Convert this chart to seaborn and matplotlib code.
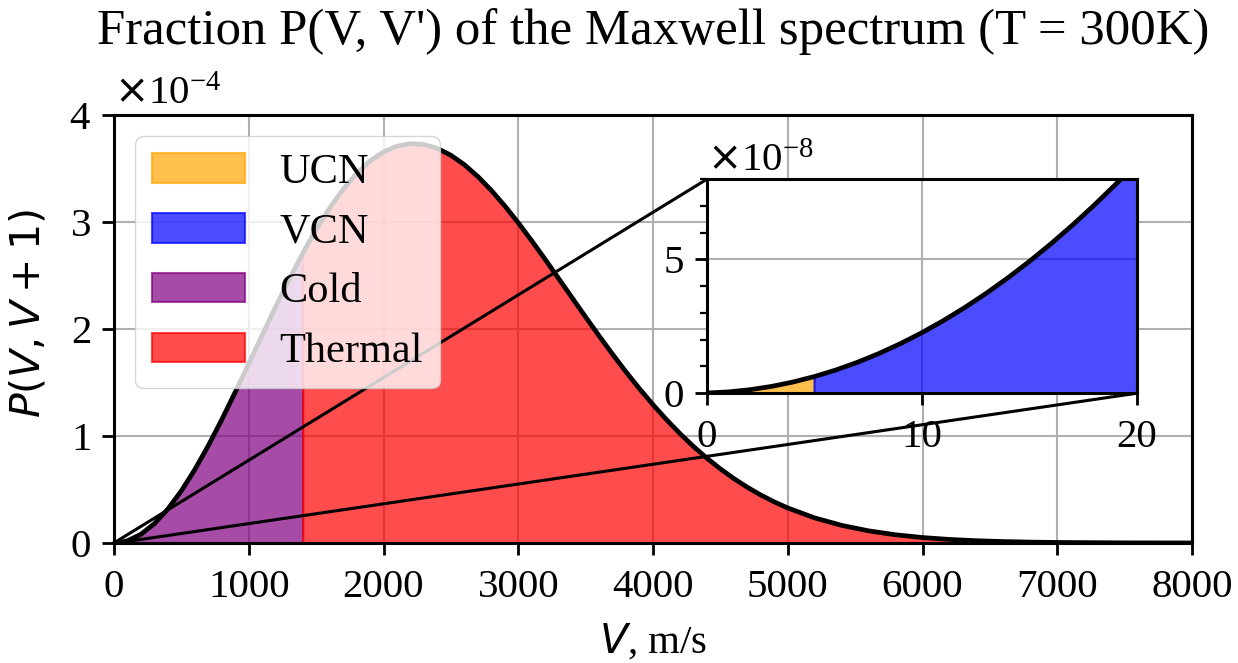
import matplotlib
matplotlib.use("Agg")
import numpy as np
import pandas as pd
import seaborn as sns
import matplotlib.pyplot as plt
from matplotlib.ticker import MultipleLocator

# ---- data ----
# low-velocity part (V in m/s, P in units of 1e-8)
V_low = list(range(0, 21))
P_low_e8 = [0.0068, 0.0479, 0.1299, 0.2530, 0.4172, 0.6224, 0.8686, 1.1558,
            1.4841, 1.8534, 2.2636, 2.7150, 3.2073, 3.7407, 4.3151, 4.9305,
            5.5869, 6.2844, 7.0228, 7.8023, 8.6228]
# full spectrum (V in m/s, P in units of 1e-4)
V_main = [100, 200, 300, 400, 500, 600, 700, 800, 900, 1000,
          1100, 1200, 1300, 1400, 1500, 1600, 1700, 1800, 1900, 2000,
          2100, 2200, 2300, 2400, 2500, 2600, 2700, 2800, 2900, 3000,
          3100, 3200, 3300, 3400, 3500, 3600, 3700, 3800, 3900, 4000,
          4100, 4200, 4300, 4400, 4500, 4600, 4700, 4800, 4900, 5000,
          5200, 5400, 5600, 5800, 6000, 6200, 6400, 6600, 6800, 7000,
          7500, 8000]
P_main_e4 = [0.0205, 0.0814, 0.1813, 0.3178, 0.4876, 0.6867, 0.9105, 1.1537, 1.4108, 1.6761,
             1.9437, 2.2081, 2.4637, 2.7056, 2.9290, 3.1300, 3.3055, 3.4527, 3.5696, 3.6552,
             3.7093, 3.7322, 3.7244, 3.6876, 3.6240, 3.5356, 3.4252, 3.2958, 3.1505, 2.9927,
             2.8245, 2.6500, 2.4713, 2.2911, 2.1118, 1.9355, 1.7638, 1.5987, 1.4414, 1.2926,
             1.1528, 1.0227, 0.9025, 0.7927, 0.6927, 0.6023, 0.5209, 0.4484, 0.3841, 0.3274,
             0.2345, 0.1648, 0.1136, 0.0768, 0.0509, 0.0332, 0.02125, 0.01336, 0.00825, 0.0050,
             0.00133, 0.00031]

region_names = ["UCN", "VCN", "Cold", "Thermal"]
region_lo = [0, 5, 100, 1400]
region_hi = [5, 100, 1400, 8000]
region_colors = ["orange", "blue", "purple", "red"]

title_text = "Fraction P(V, V') of the Maxwell spectrum (T = 300K)"

V_all = np.array(V_low + V_main, dtype=float)
P_all = np.array([p * 1e-8 for p in P_low_e8] + [p * 1e-4 for p in P_main_e4])
df = pd.DataFrame({"V": V_all, "P": P_all})

# ---- style ----
sns.set_theme(style="ticks")
FS = 29.5
plt.rcParams.update({
    "font.family": ["Liberation Serif", "DejaVu Sans"],
    "mathtext.fontset": "dejavusans",
    "font.size": FS,
    "text.color": "black",
    "axes.labelcolor": "black",
    "axes.linewidth": 2.2,
    "axes.edgecolor": "black",
    "xtick.major.width": 2.0, "ytick.major.width": 2.0,
    "xtick.minor.width": 1.6, "ytick.minor.width": 1.6,
    "xtick.major.size": 8.5, "ytick.major.size": 8.5,
    "ytick.minor.size": 5,
    "xtick.major.pad": 10, "ytick.major.pad": 8,
    "xtick.color": "black", "ytick.color": "black",
    "xtick.labelcolor": "black", "ytick.labelcolor": "black",
    "grid.color": "#b0b0b0", "grid.linewidth": 1.5,
})

fig = plt.figure(figsize=(12.38, 6.63), dpi=100)
ax = fig.add_axes([114/1238, 1 - 543/663, (1192-114)/1238, (543-115)/663])

def draw(a):
    for name, lo, hi, col in zip(region_names, region_lo, region_hi, region_colors):
        m = (df["V"] >= lo) & (df["V"] <= hi)
        a.fill_between(df["V"], df["P"], where=m, color=col, alpha=0.7,
                       label=name, linewidth=1.5)
    sns.lineplot(data=df, x="V", y="P", ax=a, color="black", linewidth=3.4,
                 sort=False, estimator=None, legend=False)
    a.grid(True)

draw(ax)
ax.set_xlim(0, 8000)
ax.set_ylim(0, 4e-4)
ax.xaxis.set_major_locator(MultipleLocator(1000))
ax.yaxis.set_major_locator(MultipleLocator(1e-4))
ax.ticklabel_format(axis="y", style="sci", scilimits=(0, 0), useMathText=True)
ax.tick_params(labelsize=FS)
ax.yaxis.get_offset_text().set_fontsize(FS)
ax.yaxis.OFFSETTEXTPAD = 8
ax.xaxis.get_offset_text().set_visible(False)
ax.set_xlabel("$V$, m/s", fontsize=FS, labelpad=12)
ax.set_ylabel("$P(V, V+1)$", fontsize=FS)
ax.yaxis.set_label_coords(-0.061, 0.537)
ax.set_title(title_text, fontsize=36.6, y=1.166, pad=0)
ax.legend(loc="upper left", fontsize=30.5, handlelength=2.2)

axins = ax.inset_axes([0.55, 0.35, 0.399, 0.5])
axins.set_facecolor("white")
draw(axins)
axins.set_xlim(0, 20)
axins.set_ylim(0, 8e-8)
axins.xaxis.set_major_locator(MultipleLocator(10))
axins.yaxis.set_major_locator(MultipleLocator(5e-8))
axins.yaxis.set_minor_locator(MultipleLocator(1e-8))
axins.ticklabel_format(axis="y", style="sci", scilimits=(0, 0), useMathText=True)
axins.tick_params(labelsize=FS)
axins.yaxis.get_offset_text().set_fontsize(FS)
axins.yaxis.OFFSETTEXTPAD = 6
axins.xaxis.get_offset_text().set_visible(False)
axins.set_xlabel("")
axins.set_ylabel("")
ax.indicate_inset_zoom(axins, edgecolor="black", linewidth=2.2, alpha=1)

fig.savefig("out.png", dpi=100)
